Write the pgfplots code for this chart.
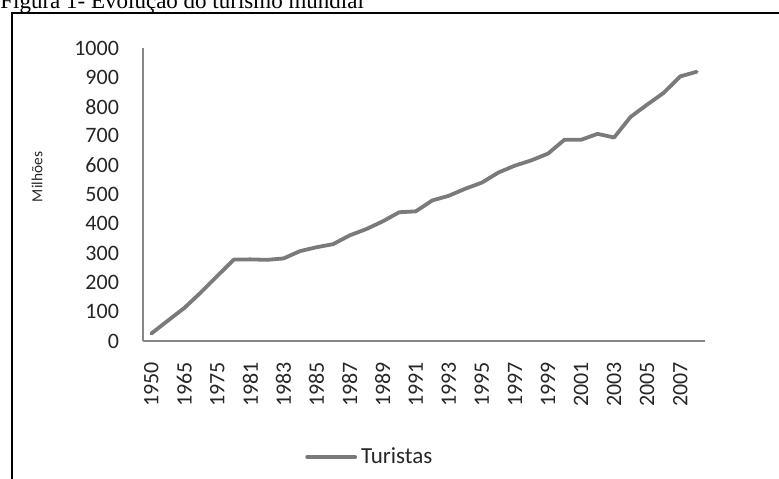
\documentclass[border=0pt]{standalone}
\usepackage{fontspec}
\usepackage{pgfplots}
\pgfplotsset{compat=1.18}
\setmainfont{Carlito}
\newfontfamily\timesfont{Liberation Serif}
\definecolor{axisgray}{HTML}{878787}
\definecolor{linegray}{HTML}{7A7A7A}
\begin{document}
\begin{tikzpicture}[x=1pt,y=1pt]
\useasboundingbox (0,0) rectangle (389.5,-239);
\clip (0,0) rectangle (389.5,-239);
\node[anchor=base west, inner sep=0pt, font=\timesfont\fontsize{11.5}{13}\selectfont] at (0,-4) {Figura 1- Evolução do turismo mundial};
\draw[line width=0.9pt, black] (6,-245) -- (6,-6.5) -- (400,-6.5);
\begin{axis}[
  at={(71.5pt,-170.5pt)}, anchor=south west,
  scale only axis, width=281pt, height=146.5pt,
  xmin=-0.5, xmax=33.5, ymin=0, ymax=1000,
  axis lines*=left,
  axis line style={axisgray, line width=1.1pt},
  axis x line*=bottom, axis y line*=left,
  major tick length=0pt,
  tick style={draw=none},
  ytick={0,100,...,1000},
  xtick={0,2,...,32},
  xticklabels={1950,1965,1975,1981,1983,1985,1987,1989,1991,1993,1995,1997,1999,2001,2003,2005,2007},
  /pgf/number format/assume math mode=true,
  /pgf/number format/1000 sep={},
  tick label style={font=\fontsize{11}{13}\selectfont, text=black!85},
  yticklabel style={xshift=-8.5pt},
  xticklabel style={yshift=-7pt, rotate=90, anchor=east},
  every axis y label/.style={at={(axis description cs:-0.1886,0.56)}, rotate=90, anchor=center, font=\fontsize{7.7}{9}\selectfont, text=black!85},
  ylabel={Milhões},
  legend style={at={(axis description cs:0.288,-0.396)}, anchor=west, draw=none, fill=none, inner sep=0pt, font=\fontsize{11.5}{13}\selectfont, text=black!85, legend cell align=left},
  legend image code/.code={\draw[#1] (0pt,0pt) -- (24pt,0pt);},
  clip=false,
]
\addplot[linegray, line width=1.9pt, line join=round, line cap=round] coordinates {
(0,25.3) (1,69.3) (2,112.9) (3,165.8) (4,222.3) (5,278.1) (6,278.6) (7,277.0)
(8,281.8) (9,306.8) (10,320.1) (11,330.5) (12,360.4) (13,381.8) (14,408.3)
(15,439.5) (16,442.5) (17,479.8) (18,495.7) (19,519.8) (20,540.6) (21,575.0)
(22,598.6) (23,616.7) (24,639.6) (25,687.0) (26,686.7) (27,707.0) (28,694.6)
(29,765.1) (30,806.8) (31,847.0) (32,903.0) (33,919.0)
};
\addlegendentry{Turistas}
\end{axis}
\end{tikzpicture}
\end{document}
